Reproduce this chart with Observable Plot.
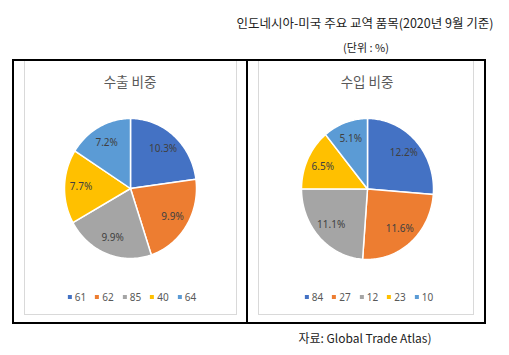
<!DOCTYPE html>
<html>
<head>
<meta charset="utf-8">
<script src="https://cdn.jsdelivr.net/npm/d3@7"></script>
<script src="https://cdn.jsdelivr.net/npm/@observablehq/plot@0.6"></script>
<style>
  html, body { margin: 0; padding: 0; background: #fff; }
  body { font-family: "Noto Sans CJK KR", "Noto Sans", sans-serif; }
  #root { position: relative; width: 509px; height: 355px; overflow: hidden; }
  .abs { position: absolute; white-space: nowrap; }
  .center { transform: translate(-50%, -50%); }
  .legend { display: flex; gap: 9px; font-size: 10px; color: #595959; align-items: center; }
  .legend span.sw { display: inline-block; width: 4px; height: 4px; margin-right: 3px; vertical-align: middle; position: relative; top: -1px; }
</style>
</head>
<body>
<div id="root"></div>
<script>
// ---- data ----
const mainTitle = "인도네시아-미국 주요 교역 품목(2020년 9월 기준)";
const unitText = "(단위 : %)";
const sourceText = "자료: Global Trade Atlas)";
const exportTitle = "수출 비중";
const importTitle = "수입 비중";
const exportCodes = ["61", "62", "85", "40", "64"];
const exportShares = [10.3, 9.9, 9.9, 7.7, 7.2];
const importCodes = ["84", "27", "12", "23", "10"];
const importShares = [12.2, 11.6, 11.1, 6.5, 5.1];
const sliceColors = ["#4472C4", "#ED7D31", "#A5A5A5", "#FFC000", "#5B9BD5"];

const root = document.getElementById("root");
function addDiv(cls, style, html) {
  const d = document.createElement("div");
  d.className = cls;
  Object.assign(d.style, style);
  if (html != null) d.innerHTML = html;
  root.appendChild(d);
  return d;
}

// header texts
addDiv("abs center", {left: "365px", top: "22px", fontSize: "12.5px", color: "#222"}, mainTitle);
addDiv("abs center", {left: "366px", top: "47px", fontSize: "11px", color: "#222"}, unitText);

// outer box & divider
addDiv("abs", {left: "12px", top: "59px", width: "474px", height: "265px", boxSizing: "border-box", border: "2px solid #000"});
addDiv("abs", {left: "246px", top: "59px", width: "2px", height: "265px", background: "#000"});

// inner chart areas
addDiv("abs", {left: "24px", top: "61px", width: "213px", height: "254px", boxSizing: "border-box", border: "1px solid #d9d9d9", borderTop: "none"});
addDiv("abs", {left: "258px", top: "61px", width: "216px", height: "254px", boxSizing: "border-box", border: "1px solid #d9d9d9", borderTop: "none"});

// source
addDiv("abs center", {left: "365px", top: "337px", fontSize: "12px", color: "#222"}, sourceText);

function slices(codes, shares) {
  const arcs = d3.pie().sort(null).value(d => d)(shares);
  const pts = [];
  const labels = [];
  arcs.forEach((a, i) => {
    const n = Math.max(8, Math.ceil((a.endAngle - a.startAngle) / 0.02));
    pts.push({code: codes[i], x: 0, y: 0});
    for (let k = 0; k <= n; k++) {
      const t = a.startAngle + (a.endAngle - a.startAngle) * k / n;
      pts.push({code: codes[i], x: Math.sin(t), y: Math.cos(t)});
    }
    pts.push({code: codes[i], x: 0, y: 0});
    const m = (a.startAngle + a.endAngle) / 2;
    labels.push({code: codes[i], x: 0.75 * Math.sin(m), y: 0.75 * Math.cos(m), text: shares[i].toFixed(1) + "%"});
  });
  return {pts, labels};
}

function pieChart(codes, shares, panel, margins) {
  const {pts, labels} = slices(codes, shares);
  const svg = Plot.plot({
    width: panel.w, height: panel.h,
    marginLeft: margins[0], marginRight: margins[1], marginTop: margins[2], marginBottom: margins[3],
    x: {domain: [-1, 1], axis: null},
    y: {domain: [-1, 1], axis: null},
    color: {domain: codes, range: sliceColors},
    style: {background: "transparent", overflow: "visible", fontFamily: "'Noto Sans', sans-serif"},
    marks: [
      Plot.line(pts, {x: "x", y: "y", z: "code", fill: "code", stroke: "#fff", strokeWidth: 1.5, curve: "linear"}),
      Plot.text(labels, {x: "x", y: "y", text: "text", fill: "#404040", fontSize: 10})
    ]
  });
  svg.style.position = "absolute";
  svg.style.left = panel.x + "px";
  svg.style.top = panel.y + "px";
  root.appendChild(svg);
}

pieChart(exportCodes, exportShares, {x: 24, y: 61, w: 213, h: 254}, [40, 41, 57, 57]);
pieChart(importCodes, importShares, {x: 258, y: 61, w: 216, h: 254}, [43, 41, 57, 56]);

// panel titles
addDiv("abs center", {left: "130px", top: "81px", fontSize: "13.5px", color: "#595959"}, exportTitle);
addDiv("abs center", {left: "367px", top: "81px", fontSize: "13.5px", color: "#595959"}, importTitle);

// legends
function legend(codes, cx) {
  const html = codes.map((c, i) => `<span><span class="sw" style="background:${sliceColors[i]}"></span>${c}</span>`).join("");
  addDiv("abs center legend", {left: cx + "px", top: "297px", fontFamily: "'Noto Sans', sans-serif"}, html);
}
legend(exportCodes, 132);
legend(importCodes, 369);
</script>
</body>
</html>
